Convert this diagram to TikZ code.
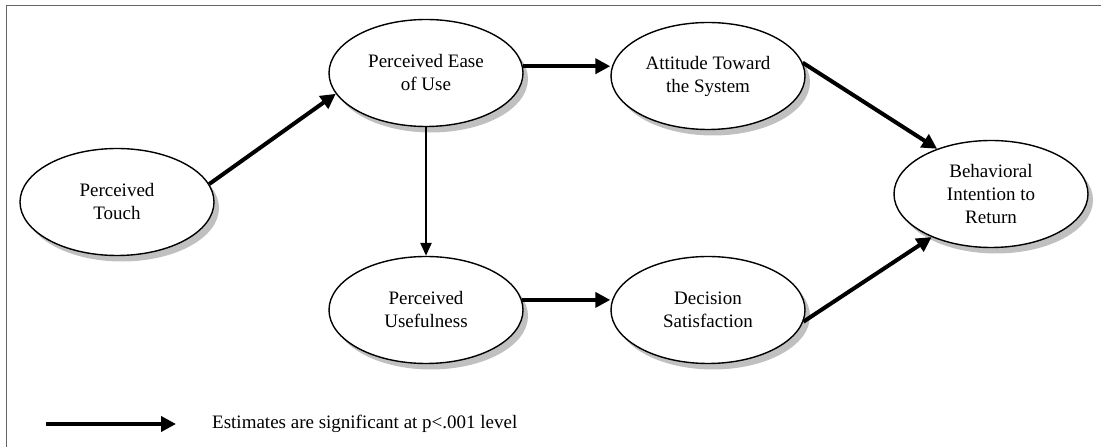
\documentclass[tikz,border=0pt]{standalone}
\usepackage{fontspec}
\setmainfont{Liberation Serif}
\usetikzlibrary{shapes.geometric,shadows,arrows.meta}
\definecolor{framegray}{RGB}{100,100,100}
\definecolor{shadowgray}{RGB}{192,192,192}
\begin{document}
\begin{tikzpicture}[x=1pt,y=1pt,
  construct/.style={ellipse, draw, line width=1.4pt, fill=white,
    minimum width=194pt, minimum height=107pt, inner sep=0pt, align=center,
    font=\fontsize{19}{23}\selectfont,
    drop shadow={shadow xshift=5pt, shadow yshift=-6pt, fill=shadowgray, opacity=1}},
  bigarrow/.style={line width=4pt, -{Triangle[length=15pt,width=15pt]}},
  thinarrow/.style={line width=2.5pt, -{Triangle[length=13pt,width=11pt]}},
  legendtext/.style={anchor=west, inner sep=0pt, font=\fontsize{19}{23}\selectfont}
]
\useasboundingbox (0,0) rectangle (1101,447);
% frame
\draw[framegray, line width=1.5pt] (6.5,0) -- (6.5,441.5) -- (1101,441.5);

% constructs
\node[construct] (touch)    at (117,245) {Perceived\\Touch};
\node[construct] (ease)     at (426,374) {Perceived Ease\\of Use};
\node[construct] (attitude) at (708,371) {Attitude Toward\\the System};
\node[construct] (useful)   at (426,137) {Perceived\\Usefulness};
\node[construct] (decision) at (708,137) {Decision\\Satisfaction};
\node[construct] (behave)   at (991,253) {Behavioral\\Intention to\\Return};

% paths
\draw[bigarrow] (touch.11) -- (ease.193);
\draw[bigarrow] (ease.4) -- (ease.4 -| attitude.west);
\draw[thinarrow] (ease.south) -- (useful.north);
\draw[bigarrow] (useful.6) -- (useful.6 -| decision.west);
\draw[bigarrow] (attitude.8) -- (behave.140);
\draw[bigarrow] (decision.-7) -- (behave.216);

% legend
\coordinate (legA) at (46,23);
\coordinate (legB) at (176,23);
\draw[bigarrow] (legA) -- (legB);
\node[legendtext] (legend) at (212,23) {Estimates are significant at p<.001 level};
\end{tikzpicture}
\end{document}
